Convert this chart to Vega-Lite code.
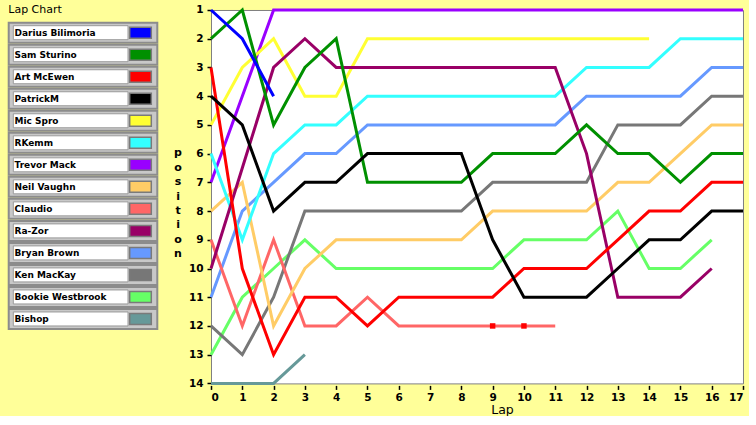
{
  "$schema": "https://vega.github.io/schema/vega-lite/v6.json",
  "background": "#FFFF99",
  "padding": {"left": 7, "top": 3, "right": 0, "bottom": 0},
  "config": {"font": "DejaVu Sans"},
  "width": 532,
  "height": 373.4,
  "view": {"fill": "#ffffff", "stroke": "#808080", "strokeWidth": 1},
  "datasets": {
    "drivers": [
      {"driver": "Darius Bilimoria", "row": 1}, {"driver": "Sam Sturino", "row": 2}, {"driver": "Art McEwen", "row": 3}, {"driver": "PatrickM", "row": 4},
      {"driver": "Mic Spro", "row": 5}, {"driver": "RKemm", "row": 6}, {"driver": "Trevor Mack", "row": 7}, {"driver": "Neil Vaughn", "row": 8},
      {"driver": "Claudio", "row": 9}, {"driver": "Ra-Zor", "row": 10}, {"driver": "Bryan Brown", "row": 11}, {"driver": "Ken MacKay", "row": 12},
      {"driver": "Bookie Westbrook", "row": 13}, {"driver": "Bishop", "row": 14}
    ],
    "pits": [
      {"driver": "Art McEwen", "lap": 9, "position": 12},
      {"driver": "Art McEwen", "lap": 10, "position": 12}
    ],
    "laps": [
      {"driver": "Bishop", "lap": 0, "position": 14}, {"driver": "Bishop", "lap": 1, "position": 14}, {"driver": "Bishop", "lap": 2, "position": 14}, {"driver": "Bishop", "lap": 3, "position": 13},
      {"driver": "Bookie Westbrook", "lap": 0, "position": 13}, {"driver": "Bookie Westbrook", "lap": 1, "position": 11}, {"driver": "Bookie Westbrook", "lap": 2, "position": 10}, {"driver": "Bookie Westbrook", "lap": 3, "position": 9}, {"driver": "Bookie Westbrook", "lap": 4, "position": 10}, {"driver": "Bookie Westbrook", "lap": 5, "position": 10}, {"driver": "Bookie Westbrook", "lap": 6, "position": 10}, {"driver": "Bookie Westbrook", "lap": 7, "position": 10}, {"driver": "Bookie Westbrook", "lap": 8, "position": 10}, {"driver": "Bookie Westbrook", "lap": 9, "position": 10}, {"driver": "Bookie Westbrook", "lap": 10, "position": 9}, {"driver": "Bookie Westbrook", "lap": 11, "position": 9}, {"driver": "Bookie Westbrook", "lap": 12, "position": 9}, {"driver": "Bookie Westbrook", "lap": 13, "position": 8}, {"driver": "Bookie Westbrook", "lap": 14, "position": 10}, {"driver": "Bookie Westbrook", "lap": 15, "position": 10}, {"driver": "Bookie Westbrook", "lap": 16, "position": 9},
      {"driver": "Ken MacKay", "lap": 0, "position": 12}, {"driver": "Ken MacKay", "lap": 1, "position": 13}, {"driver": "Ken MacKay", "lap": 2, "position": 11}, {"driver": "Ken MacKay", "lap": 3, "position": 8}, {"driver": "Ken MacKay", "lap": 4, "position": 8}, {"driver": "Ken MacKay", "lap": 5, "position": 8}, {"driver": "Ken MacKay", "lap": 6, "position": 8}, {"driver": "Ken MacKay", "lap": 7, "position": 8}, {"driver": "Ken MacKay", "lap": 8, "position": 8}, {"driver": "Ken MacKay", "lap": 9, "position": 7}, {"driver": "Ken MacKay", "lap": 10, "position": 7}, {"driver": "Ken MacKay", "lap": 11, "position": 7}, {"driver": "Ken MacKay", "lap": 12, "position": 7}, {"driver": "Ken MacKay", "lap": 13, "position": 5}, {"driver": "Ken MacKay", "lap": 14, "position": 5}, {"driver": "Ken MacKay", "lap": 15, "position": 5}, {"driver": "Ken MacKay", "lap": 16, "position": 4}, {"driver": "Ken MacKay", "lap": 17, "position": 4},
      {"driver": "Bryan Brown", "lap": 0, "position": 11}, {"driver": "Bryan Brown", "lap": 1, "position": 8}, {"driver": "Bryan Brown", "lap": 2, "position": 7}, {"driver": "Bryan Brown", "lap": 3, "position": 6}, {"driver": "Bryan Brown", "lap": 4, "position": 6}, {"driver": "Bryan Brown", "lap": 5, "position": 5}, {"driver": "Bryan Brown", "lap": 6, "position": 5}, {"driver": "Bryan Brown", "lap": 7, "position": 5}, {"driver": "Bryan Brown", "lap": 8, "position": 5}, {"driver": "Bryan Brown", "lap": 9, "position": 5}, {"driver": "Bryan Brown", "lap": 10, "position": 5}, {"driver": "Bryan Brown", "lap": 11, "position": 5}, {"driver": "Bryan Brown", "lap": 12, "position": 4}, {"driver": "Bryan Brown", "lap": 13, "position": 4}, {"driver": "Bryan Brown", "lap": 14, "position": 4}, {"driver": "Bryan Brown", "lap": 15, "position": 4}, {"driver": "Bryan Brown", "lap": 16, "position": 3}, {"driver": "Bryan Brown", "lap": 17, "position": 3},
      {"driver": "Claudio", "lap": 0, "position": 9}, {"driver": "Claudio", "lap": 1, "position": 12}, {"driver": "Claudio", "lap": 2, "position": 9}, {"driver": "Claudio", "lap": 3, "position": 12}, {"driver": "Claudio", "lap": 4, "position": 12}, {"driver": "Claudio", "lap": 5, "position": 11}, {"driver": "Claudio", "lap": 6, "position": 12}, {"driver": "Claudio", "lap": 7, "position": 12}, {"driver": "Claudio", "lap": 8, "position": 12}, {"driver": "Claudio", "lap": 9, "position": 12}, {"driver": "Claudio", "lap": 10, "position": 12}, {"driver": "Claudio", "lap": 11, "position": 12},
      {"driver": "Neil Vaughn", "lap": 0, "position": 8}, {"driver": "Neil Vaughn", "lap": 1, "position": 7}, {"driver": "Neil Vaughn", "lap": 2, "position": 12}, {"driver": "Neil Vaughn", "lap": 3, "position": 10}, {"driver": "Neil Vaughn", "lap": 4, "position": 9}, {"driver": "Neil Vaughn", "lap": 5, "position": 9}, {"driver": "Neil Vaughn", "lap": 6, "position": 9}, {"driver": "Neil Vaughn", "lap": 7, "position": 9}, {"driver": "Neil Vaughn", "lap": 8, "position": 9}, {"driver": "Neil Vaughn", "lap": 9, "position": 8}, {"driver": "Neil Vaughn", "lap": 10, "position": 8}, {"driver": "Neil Vaughn", "lap": 11, "position": 8}, {"driver": "Neil Vaughn", "lap": 12, "position": 8}, {"driver": "Neil Vaughn", "lap": 13, "position": 7}, {"driver": "Neil Vaughn", "lap": 14, "position": 7}, {"driver": "Neil Vaughn", "lap": 15, "position": 6}, {"driver": "Neil Vaughn", "lap": 16, "position": 5}, {"driver": "Neil Vaughn", "lap": 17, "position": 5},
      {"driver": "Trevor Mack", "lap": 0, "position": 7}, {"driver": "Trevor Mack", "lap": 1, "position": 4}, {"driver": "Trevor Mack", "lap": 2, "position": 1}, {"driver": "Trevor Mack", "lap": 3, "position": 1}, {"driver": "Trevor Mack", "lap": 4, "position": 1}, {"driver": "Trevor Mack", "lap": 5, "position": 1}, {"driver": "Trevor Mack", "lap": 6, "position": 1}, {"driver": "Trevor Mack", "lap": 7, "position": 1}, {"driver": "Trevor Mack", "lap": 8, "position": 1}, {"driver": "Trevor Mack", "lap": 9, "position": 1}, {"driver": "Trevor Mack", "lap": 10, "position": 1}, {"driver": "Trevor Mack", "lap": 11, "position": 1}, {"driver": "Trevor Mack", "lap": 12, "position": 1}, {"driver": "Trevor Mack", "lap": 13, "position": 1}, {"driver": "Trevor Mack", "lap": 14, "position": 1}, {"driver": "Trevor Mack", "lap": 15, "position": 1}, {"driver": "Trevor Mack", "lap": 16, "position": 1}, {"driver": "Trevor Mack", "lap": 17, "position": 1},
      {"driver": "RKemm", "lap": 0, "position": 6}, {"driver": "RKemm", "lap": 1, "position": 9}, {"driver": "RKemm", "lap": 2, "position": 6}, {"driver": "RKemm", "lap": 3, "position": 5}, {"driver": "RKemm", "lap": 4, "position": 5}, {"driver": "RKemm", "lap": 5, "position": 4}, {"driver": "RKemm", "lap": 6, "position": 4}, {"driver": "RKemm", "lap": 7, "position": 4}, {"driver": "RKemm", "lap": 8, "position": 4}, {"driver": "RKemm", "lap": 9, "position": 4}, {"driver": "RKemm", "lap": 10, "position": 4}, {"driver": "RKemm", "lap": 11, "position": 4}, {"driver": "RKemm", "lap": 12, "position": 3}, {"driver": "RKemm", "lap": 13, "position": 3}, {"driver": "RKemm", "lap": 14, "position": 3}, {"driver": "RKemm", "lap": 15, "position": 2}, {"driver": "RKemm", "lap": 16, "position": 2}, {"driver": "RKemm", "lap": 17, "position": 2},
      {"driver": "Mic Spro", "lap": 0, "position": 5}, {"driver": "Mic Spro", "lap": 1, "position": 3}, {"driver": "Mic Spro", "lap": 2, "position": 2}, {"driver": "Mic Spro", "lap": 3, "position": 4}, {"driver": "Mic Spro", "lap": 4, "position": 4}, {"driver": "Mic Spro", "lap": 5, "position": 2}, {"driver": "Mic Spro", "lap": 6, "position": 2}, {"driver": "Mic Spro", "lap": 7, "position": 2}, {"driver": "Mic Spro", "lap": 8, "position": 2}, {"driver": "Mic Spro", "lap": 9, "position": 2}, {"driver": "Mic Spro", "lap": 10, "position": 2}, {"driver": "Mic Spro", "lap": 11, "position": 2}, {"driver": "Mic Spro", "lap": 12, "position": 2}, {"driver": "Mic Spro", "lap": 13, "position": 2}, {"driver": "Mic Spro", "lap": 14, "position": 2},
      {"driver": "Ra-Zor", "lap": 0, "position": 10}, {"driver": "Ra-Zor", "lap": 1, "position": 6.5}, {"driver": "Ra-Zor", "lap": 2, "position": 3}, {"driver": "Ra-Zor", "lap": 3, "position": 2}, {"driver": "Ra-Zor", "lap": 4, "position": 3}, {"driver": "Ra-Zor", "lap": 5, "position": 3}, {"driver": "Ra-Zor", "lap": 6, "position": 3}, {"driver": "Ra-Zor", "lap": 7, "position": 3}, {"driver": "Ra-Zor", "lap": 8, "position": 3}, {"driver": "Ra-Zor", "lap": 9, "position": 3}, {"driver": "Ra-Zor", "lap": 10, "position": 3}, {"driver": "Ra-Zor", "lap": 11, "position": 3}, {"driver": "Ra-Zor", "lap": 12, "position": 6}, {"driver": "Ra-Zor", "lap": 13, "position": 11}, {"driver": "Ra-Zor", "lap": 14, "position": 11}, {"driver": "Ra-Zor", "lap": 15, "position": 11}, {"driver": "Ra-Zor", "lap": 16, "position": 10},
      {"driver": "Art McEwen", "lap": 0, "position": 3}, {"driver": "Art McEwen", "lap": 1, "position": 10}, {"driver": "Art McEwen", "lap": 2, "position": 13}, {"driver": "Art McEwen", "lap": 3, "position": 11}, {"driver": "Art McEwen", "lap": 4, "position": 11}, {"driver": "Art McEwen", "lap": 5, "position": 12}, {"driver": "Art McEwen", "lap": 6, "position": 11}, {"driver": "Art McEwen", "lap": 7, "position": 11}, {"driver": "Art McEwen", "lap": 8, "position": 11}, {"driver": "Art McEwen", "lap": 9, "position": 11}, {"driver": "Art McEwen", "lap": 10, "position": 10}, {"driver": "Art McEwen", "lap": 11, "position": 10}, {"driver": "Art McEwen", "lap": 12, "position": 10}, {"driver": "Art McEwen", "lap": 13, "position": 9}, {"driver": "Art McEwen", "lap": 14, "position": 8}, {"driver": "Art McEwen", "lap": 15, "position": 8}, {"driver": "Art McEwen", "lap": 16, "position": 7}, {"driver": "Art McEwen", "lap": 17, "position": 7},
      {"driver": "Sam Sturino", "lap": 0, "position": 2}, {"driver": "Sam Sturino", "lap": 1, "position": 1}, {"driver": "Sam Sturino", "lap": 2, "position": 5}, {"driver": "Sam Sturino", "lap": 3, "position": 3}, {"driver": "Sam Sturino", "lap": 4, "position": 2}, {"driver": "Sam Sturino", "lap": 5, "position": 7}, {"driver": "Sam Sturino", "lap": 6, "position": 7}, {"driver": "Sam Sturino", "lap": 7, "position": 7}, {"driver": "Sam Sturino", "lap": 8, "position": 7}, {"driver": "Sam Sturino", "lap": 9, "position": 6}, {"driver": "Sam Sturino", "lap": 10, "position": 6}, {"driver": "Sam Sturino", "lap": 11, "position": 6}, {"driver": "Sam Sturino", "lap": 12, "position": 5}, {"driver": "Sam Sturino", "lap": 13, "position": 6}, {"driver": "Sam Sturino", "lap": 14, "position": 6}, {"driver": "Sam Sturino", "lap": 15, "position": 7}, {"driver": "Sam Sturino", "lap": 16, "position": 6}, {"driver": "Sam Sturino", "lap": 17, "position": 6},
      {"driver": "PatrickM", "lap": 0, "position": 4}, {"driver": "PatrickM", "lap": 1, "position": 5}, {"driver": "PatrickM", "lap": 2, "position": 8}, {"driver": "PatrickM", "lap": 3, "position": 7}, {"driver": "PatrickM", "lap": 4, "position": 7}, {"driver": "PatrickM", "lap": 5, "position": 6}, {"driver": "PatrickM", "lap": 6, "position": 6}, {"driver": "PatrickM", "lap": 7, "position": 6}, {"driver": "PatrickM", "lap": 8, "position": 6}, {"driver": "PatrickM", "lap": 9, "position": 9}, {"driver": "PatrickM", "lap": 10, "position": 11}, {"driver": "PatrickM", "lap": 11, "position": 11}, {"driver": "PatrickM", "lap": 12, "position": 11}, {"driver": "PatrickM", "lap": 13, "position": 10}, {"driver": "PatrickM", "lap": 14, "position": 9}, {"driver": "PatrickM", "lap": 15, "position": 9}, {"driver": "PatrickM", "lap": 16, "position": 8}, {"driver": "PatrickM", "lap": 17, "position": 8},
      {"driver": "Darius Bilimoria", "lap": 0, "position": 1}, {"driver": "Darius Bilimoria", "lap": 1, "position": 2}, {"driver": "Darius Bilimoria", "lap": 2, "position": 4}
    ]
  },
  "layer": [
    {
      "encoding": {
        "x": {
          "field": "lap", "type": "quantitative",
          "scale": {"domain": [0, 17], "nice": false, "zero": false},
          "axis": {
            "orient": "bottom",
            "values": [0, 1, 2, 3, 4, 5, 6, 7, 8, 9, 10, 11, 12, 13, 14, 15, 16, 17],
            "format": "d", "domain": false, "grid": false, "labelOverlap": false,
            "tickColor": "#000000", "tickSize": 4, "tickWidth": 1.5, "offset": 2,
            "labelPadding": 3, "labelFont": "DejaVu Sans", "labelFontWeight": "bold", "labelFontSize": 10.5, "labelColor": "#000000",
            "title": "Lap", "titleFont": "DejaVu Sans", "titleFontWeight": "normal", "titleFontSize": 12.5, "titleColor": "#000000",
            "titleX": 291, "titleAlign": "center", "titlePadding": 1
          }
        },
        "y": {
          "field": "position", "type": "quantitative",
          "scale": {"domain": [1, 14], "reverse": true, "nice": false, "zero": false},
          "axis": {
            "orient": "left",
            "values": [1, 2, 3, 4, 5, 6, 7, 8, 9, 10, 11, 12, 13, 14],
            "format": "d", "domain": false, "grid": false, "labelOverlap": false,
            "tickColor": "#000000", "tickSize": 4, "tickWidth": 1.5,
            "labelPadding": 4, "labelFont": "DejaVu Sans", "labelFontWeight": "bold", "labelFontSize": 10.5, "labelColor": "#000000",
            "title": ["p", "o", "s", "i", "t", "i", "o", "n"],
            "titleAngle": 0, "titleAlign": "center", "titleBaseline": "top",
            "titleX": -33.5, "titleY": 137,
            "titleFont": "DejaVu Sans", "titleFontWeight": "bold", "titleFontSize": 11, "titleLineHeight": 14.4, "titleColor": "#000000"
          }
        }
      },
      "layer": [
        {
          "data": {"name": "laps"},
          "mark": {"type": "line", "strokeWidth": 3},
          "encoding": {
            "color": {
              "field": "driver", "type": "nominal", "legend": null,
              "scale": {
                "domain": ["Darius Bilimoria", "Sam Sturino", "Art McEwen", "PatrickM", "Mic Spro", "RKemm", "Trevor Mack", "Neil Vaughn", "Claudio", "Ra-Zor", "Bryan Brown", "Ken MacKay", "Bookie Westbrook", "Bishop"],
                "range": ["#0000ff", "#009000", "#ff0000", "#000000", "#ffff33", "#33ffff", "#9900ff", "#ffcc66", "#ff6666", "#990066", "#6699ff", "#777777", "#66ff66", "#669999"]
              }
            }
          }
        },
        {
          "data": {"name": "pits"},
          "mark": {"type": "square", "size": 30, "filled": true, "color": "#ff0000", "opacity": 1}
        }
      ]
    },
    {
      "encoding": {
        "x": {"datum": 0, "type": "quantitative", "scale": {"domain": [205, 737], "nice": false, "zero": false}, "axis": null},
        "y": {
          "field": "row", "type": "quantitative",
          "scale": {"domain": [-0.0309, 16.926], "reverse": true, "nice": false, "zero": false},
          "axis": {
            "orient": "right", "domain": false, "ticks": false, "labels": false, "grid": false,
            "title": "Lap Chart", "titleX": -735.2, "titleY": -0.8, "titleAngle": 0,
            "titleAlign": "left", "titleBaseline": "middle", "titlePadding": 0,
            "titleFont": "DejaVu Sans", "titleFontSize": 11, "titleFontWeight": "normal", "titleColor": "#000000"
          }
        }
      },
      "layer": [
        {
          "data": {"values": [{"caption": "frame"}]},
          "mark": {"type": "rect", "fill": "#b8b8b8", "stroke": "#d0d0d0", "strokeWidth": 2},
          "encoding": {
            "x": {"datum": 0, "type": "quantitative"},
            "x2": {"datum": 153},
            "y": {"datum": 0.364, "type": "quantitative"},
            "y2": {"datum": 14.624}
          }
        },
        {
          "data": {"name": "drivers"},
          "mark": {"type": "tick", "orient": "horizontal", "size": 148.6, "thickness": 20, "fill": "#c8c8c8", "stroke": "#8c8c8c", "strokeWidth": 2, "opacity": 1},
          "encoding": {"x": {"datum": 77, "type": "quantitative"}}
        },
        {
          "data": {"name": "drivers"},
          "mark": {"type": "tick", "orient": "horizontal", "size": 114.7, "thickness": 14, "fill": "#ffffff", "stroke": "#9a9a9a", "strokeWidth": 1, "opacity": 1},
          "encoding": {"x": {"datum": 64.65, "type": "quantitative"}}
        },
        {
          "data": {"name": "drivers"},
          "mark": {"type": "tick", "orient": "horizontal", "size": 21.6, "thickness": 11, "stroke": "#7a7a7a", "strokeWidth": 1.5, "opacity": 1},
          "encoding": {
            "x": {"datum": 134.5, "type": "quantitative"},
            "color": {
              "field": "driver", "type": "nominal", "legend": null,
              "scale": {
                "domain": ["Darius Bilimoria", "Sam Sturino", "Art McEwen", "PatrickM", "Mic Spro", "RKemm", "Trevor Mack", "Neil Vaughn", "Claudio", "Ra-Zor", "Bryan Brown", "Ken MacKay", "Bookie Westbrook", "Bishop"],
                "range": ["#0000ff", "#009000", "#ff0000", "#000000", "#ffff33", "#33ffff", "#9900ff", "#ffcc66", "#ff6666", "#990066", "#6699ff", "#777777", "#66ff66", "#669999"]
              }
            }
          }
        },
        {
          "data": {"name": "drivers"},
          "mark": {"type": "text", "align": "left", "baseline": "middle", "font": "DejaVu Sans", "fontWeight": "bold", "fontSize": 9, "fill": "#000000"},
          "encoding": {
            "x": {"datum": 8.5, "type": "quantitative"},
            "text": {"field": "driver", "type": "nominal"}
          }
        }
      ]
    }
  ],
  "resolve": {"scale": {"x": "independent", "y": "independent"}}
}
